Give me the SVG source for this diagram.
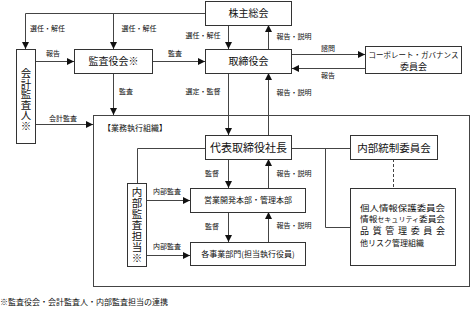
<svg xmlns="http://www.w3.org/2000/svg" width="471" height="310" viewBox="0 0 471 310">
<style>
.box{fill:#fff;stroke:#333;stroke-width:1}
.frame{fill:none;stroke:#444;stroke-width:1}
.ln{fill:none;stroke:#444;stroke-width:1}
.dash{fill:none;stroke:#444;stroke-width:1;stroke-dasharray:3,2}
text{font-family:"Noto Sans CJK JP","Noto Sans",sans-serif;fill:#111}
.lbl{font-size:7px;text-anchor:middle}
.t10{font-size:10px;text-anchor:middle}
.t8{font-size:8px;text-anchor:middle}
.vt{font-size:10.5px;writing-mode:vertical-rl}
.cm{font-size:8px}
</style>
<defs>
<marker id="ah" markerUnits="userSpaceOnUse" markerWidth="7" markerHeight="7" refX="7" refY="3.5" orient="auto">
<path d="M0,0 L7,3.5 L0,7 z" fill="#111"/>
</marker>
</defs>
<rect class="frame" x="93.5" y="115.5" width="376" height="171"/>
<g id="connectors">
<path class="ln" d="M205,13.5 H25.5 V49" marker-end="url(#ah)"/>
<path class="ln" d="M113.5,13.5 V49" marker-end="url(#ah)"/>
<path class="ln" d="M228.5,25 V49" marker-end="url(#ah)"/>
<path class="ln" d="M268.5,49 V25" marker-end="url(#ah)"/>
<path class="ln" d="M36,61.5 H74" marker-end="url(#ah)"/>
<path class="ln" d="M152,61.5 H205" marker-end="url(#ah)"/>
<path class="ln" d="M292,54.5 H365" marker-end="url(#ah)"/>
<path class="ln" d="M365,68.5 H292" marker-end="url(#ah)"/>
<path class="ln" d="M113.5,73 V115" marker-end="url(#ah)"/>
<path class="ln" d="M36,124.5 H93" marker-end="url(#ah)"/>
<path class="ln" d="M228.5,73 V135" marker-end="url(#ah)"/>
<path class="ln" d="M268.5,135 V73" marker-end="url(#ah)"/>
<path class="ln" d="M205,148.5 H137.5 V183"/>
<path class="ln" d="M292,148.5 H350"/>
<path class="ln" d="M325.5,148.5 V227.5 H350"/>
<path class="dash" d="M393.5,159 V188"/>
<path class="ln" d="M228.5,159 V188" marker-end="url(#ah)"/>
<path class="ln" d="M268.5,188 V159" marker-end="url(#ah)"/>
<path class="ln" d="M228.5,212 V242" marker-end="url(#ah)"/>
<path class="ln" d="M268.5,242 V212" marker-end="url(#ah)"/>
<path class="ln" d="M147,200.5 H190" marker-end="url(#ah)"/>
<path class="ln" d="M147,255.5 H190" marker-end="url(#ah)"/>
</g>
<g id="labels">
<text class="lbl" x="47.5" y="31">選任・解任</text>
<text class="lbl" x="139" y="31">選任・解任</text>
<text class="lbl" x="203" y="38">選任・解任</text>
<text class="lbl" x="294" y="39">報告・説明</text>
<text class="lbl" x="53" y="56">報告</text>
<text class="lbl" x="175" y="56">監査</text>
<text class="lbl" x="328" y="51">諮問</text>
<text class="lbl" x="328" y="78">報告</text>
<text class="lbl" x="126" y="94">監査</text>
<text class="lbl" x="203" y="94">選定・監督</text>
<text class="lbl" x="294" y="95">報告・説明</text>
<text class="lbl" x="63" y="121">会計監査</text>
<text class="lbl" x="212" y="176">監督</text>
<text class="lbl" x="294" y="176">報告・説明</text>
<text class="lbl" x="212" y="229">監督</text>
<text class="lbl" x="294" y="228">報告・説明</text>
<text class="lbl" x="167" y="194">内部監査</text>
<text class="lbl" x="167" y="249">内部監査</text>
<text x="103" y="131" style="font-size:8px">【業務執行組織】</text>
</g>
<g id="shareholders">
<rect class="box" x="205.5" y="1.5" width="86" height="24"/>
<text class="t10" x="248.5" y="17">株主総会</text>
</g>
<g id="auditors-board">
<rect class="box" x="74.5" y="49.5" width="78" height="24"/>
<text class="t10" x="113.5" y="65">監査役会※</text>
</g>
<g id="board">
<rect class="box" x="205.5" y="49.5" width="86" height="24"/>
<text class="t10" x="248.5" y="65">取締役会</text>
</g>
<g id="governance">
<rect class="box" x="365.5" y="46.5" width="96" height="27"/>
<text class="t8" x="413.5" y="58" style="font-size:7.5px">コーポレート・ガバナンス</text>
<text class="t8" x="413.5" y="70" style="font-size:9px">委員会</text>
</g>
<g id="accounting-auditor">
<rect class="box" x="16.5" y="49.5" width="19" height="94"/>
<text class="vt" x="26" y="68" style="letter-spacing:0px">会計監査人※</text>
</g>
<g id="president">
<rect class="box" x="205.5" y="135.5" width="86" height="24"/>
<text class="t10" x="248.5" y="151.5" style="font-size:11px">代表取締役社長</text>
</g>
<g id="internal-control">
<rect class="box" x="350.5" y="135.5" width="87" height="24"/>
<text class="t10" x="394" y="151.5" style="font-size:10.5px">内部統制委員会</text>
</g>
<g id="internal-audit">
<rect class="box" x="127.5" y="183.5" width="19" height="83"/>
<text class="vt" x="137" y="187" style="letter-spacing:0.5px">内部監査担当※</text>
</g>
<g id="divisions">
<rect class="box" x="190.5" y="188.5" width="115" height="24"/>
<text class="t8" x="248" y="203">営業開発本部・管理本部</text>
</g>
<g id="business-units">
<rect class="box" x="190.5" y="242.5" width="115" height="23"/>
<text class="t8" x="248" y="257">各事業部門(担当執行役員)</text>
</g>
<g id="committees">
<rect class="box" x="350.5" y="188.5" width="105" height="77"/>
<text class="cm" x="360" y="210.5" textLength="85" lengthAdjust="spacingAndGlyphs">個人情報保護委員会</text>
<text class="cm" x="360" y="222.2" textLength="85" lengthAdjust="spacingAndGlyphs">情報<tspan style="font-size:6.5px">セキュリティ</tspan>委員会</text>
<text class="cm" x="360" y="233.9" style="font-size:9px" textLength="85" lengthAdjust="spacing">品質管理委員会</text>
<text class="cm" x="360" y="245.6">他リスク管理組織</text>
</g>
<text x="0" y="305" style="font-size:8px">※監査役会・会計監査人・内部監査担当の連携</text>
</svg>
